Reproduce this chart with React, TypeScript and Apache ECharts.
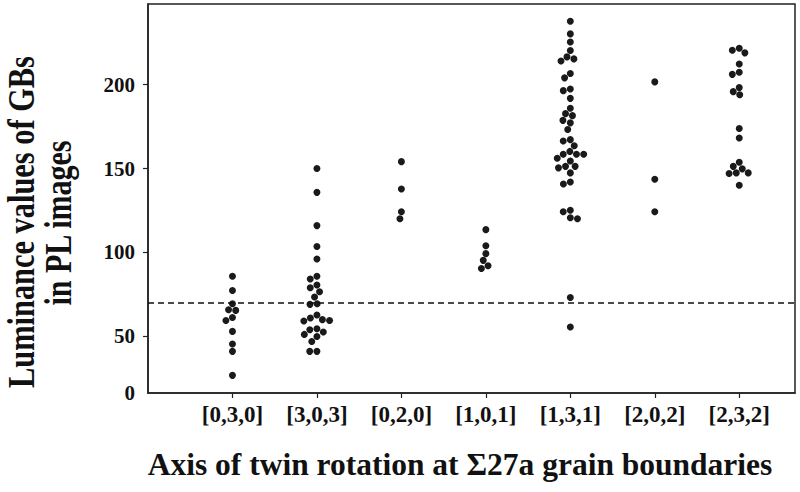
import React, { useEffect, useRef } from "react";
import * as echarts from "echarts";

const categories = ["[0,3,0]", "[3,0,3]", "[0,2,0]", "[1,0,1]", "[1,3,1]", "[2,0,2]", "[2,3,2]"];

const lum030 = [85.8, 77.4, 69.5, 65.9, 65.5, 61.3, 59.5, 53, 45.5, 41.1, 26.8];
const lum303 = [150, 135.8, 116, 103.6, 96.1, 85.8, 84.2, 80.6, 79, 76.6, 73.5, 69.5, 69.1, 62.8, 61, 59.5, 59.2, 60, 54.6, 54, 52.6, 51.2, 50, 47, 41.1, 41.1];
const lum020 = [154.1, 137.8, 124.3, 120.1];
const lum101 = [113.6, 104, 99.3, 95.3, 92.1, 90.5];
const lum131 = [237.7, 230.2, 225.4, 220.3, 216.5, 214.1, 215.3, 206.6, 204, 197.4, 196.4, 191.8, 185.9, 182.7, 181.5, 178.7, 177.2, 173.2, 167.2, 166.4, 163.6, 160.2, 158.5, 158.5, 158.5, 156.1, 154.5, 150.4, 151.3, 151.3, 147.4, 142, 140.8, 124.3, 125.1, 120.7, 120.1, 73.2, 55.6];
const lum202 = [201.6, 143.6, 124.3];
const lum232 = [220.4, 218.9, 221.6, 212.3, 207.3, 206.1, 198.2, 195.8, 193.9, 173.8, 168.2, 153.7, 151.3, 149.8, 147.4, 147, 147.4, 140];

const groups = [lum030, lum303, lum020, lum101, lum131, lum202, lum232];

const yTickValues = [50, 100, 150, 200];
const yAxisMin = 16.3;
const yAxisMax = 248;
const yBottomLabel = "0";
const thresholdValue = 70;

const xTitle = "Axis of twin rotation at Σ27a grain boundaries";
const yTitleLines = ["Luminance values of GBs", "in PL images"];

const DOT = 7.2;

function swarm(ys: number[], D: number): number[] {
  const order = ys.map((_, i) => i).sort((a, b) => ys[a] - ys[b]);
  const placed: { x: number; y: number }[] = [];
  const xs = new Array(ys.length).fill(0);
  for (const i of order) {
    const y = ys[i];
    const near = placed.filter((p) => Math.abs(p.y - y) < D);
    const cands = [0];
    near.forEach((p) => {
      const dx = Math.sqrt(D * D - (p.y - y) * (p.y - y)) + 0.01;
      cands.push(p.x + dx, p.x - dx);
    });
    const ok = cands.filter((c) => near.every((p) => (p.x - c) ** 2 + (p.y - y) ** 2 >= D * D - 0.001));
    ok.sort((a, b) => Math.abs(a) - Math.abs(b) || a - b);
    xs[i] = ok[0];
    placed.push({ x: ok[0], y });
  }
  return xs;
}

export default function App() {
  const ref = useRef<HTMLDivElement>(null);
  useEffect(() => {
    if (!ref.current) return;
    const chart = echarts.init(ref.current, null, { renderer: "svg" });
    const serif = "'Liberation Serif', 'Times New Roman', serif";
    const centerData = groups.flatMap((g, ci) => g.map((v) => [ci + 1, v]));
    const option: any = {
      animation: false,
      backgroundColor: "#ffffff",
      grid: {
        left: 148,
        right: 5,
        top: 4,
        bottom: 99,
        show: true,
        borderColor: "#222",
        borderWidth: 1.5,
        backgroundColor: "#fff",
      },
      xAxis: {
        type: "value",
        min: 0,
        max: 7.66,
        splitLine: { show: false },
        axisLine: { show: true, lineStyle: { color: "#222", width: 1.5 } },
        axisTick: { show: true, customValues: categories.map((_, i) => i + 1), length: 5, lineStyle: { color: "#222", width: 1.2 } },
        axisLabel: {
          customValues: categories.map((_, i) => i + 1),
          formatter: (v: number) => categories[Math.round(v) - 1] ?? "",
          fontFamily: serif,
          fontWeight: "bold",
          fontSize: 23,
          color: "#111",
          margin: 10,
        },
      },
      yAxis: {
        type: "value",
        min: yAxisMin,
        max: yAxisMax,
        splitLine: { show: false },
        axisLine: { show: true, lineStyle: { color: "#222", width: 1.5 } },
        axisTick: { show: true, customValues: yTickValues, length: 5, lineStyle: { color: "#222", width: 1.2 } },
        axisLabel: {
          customValues: [yAxisMin, ...yTickValues],
          formatter: (v: number) => (v === yAxisMin ? yBottomLabel : String(v)),
          fontFamily: serif,
          fontWeight: "bold",
          fontSize: 21,
          color: "#111",
          margin: 13,
        },
      },
      graphic: [
        {
          type: "text",
          x: 460,
          y: 464,
          style: {
            text: xTitle,
            font: `bold 31.5px ${serif}`,
            fill: "#111",
            align: "center",
            verticalAlign: "middle",
          },
        },
        {
          type: "text",
          x: 21,
          y: 222,
          rotation: Math.PI / 2,
          scaleX: 0.8,
          style: {
            text: yTitleLines[0],
            font: `bold 38px ${serif}`,
            fill: "#111",
            align: "center",
            verticalAlign: "middle",
          },
        },
        {
          type: "text",
          x: 57.5,
          y: 223,
          rotation: Math.PI / 2,
          scaleX: 0.79,
          style: {
            text: yTitleLines[1],
            font: `bold 38px ${serif}`,
            fill: "#111",
            align: "center",
            verticalAlign: "middle",
          },
        },
      ],
      series: [
        {
          id: "pts",
          type: "scatter",
          symbol: "circle",
          symbolSize: 7,
          itemStyle: { color: "#1a1a1a", opacity: 1 },
          data: centerData,
          markLine: {
            silent: true,
            symbol: "none",
            label: { show: false },
            lineStyle: { type: [6, 4], color: "#111", width: 1.5 },
            data: [{ yAxis: thresholdValue }],
          },
        },
      ],
    };
    chart.setOption(option);

    const data: number[][] = [];
    groups.forEach((g, ci) => {
      const pix = g.map((v) => chart.convertToPixel({ gridIndex: 0 }, [ci + 1, v]) as number[]);
      const ys = pix.map((p) => p[1]);
      const dxs = swarm(ys, DOT);
      g.forEach((v, k) => {
        const xv = (chart.convertFromPixel({ gridIndex: 0 }, [pix[k][0] + dxs[k], pix[k][1]]) as number[])[0];
        data.push([xv, v]);
      });
    });
    chart.setOption({ series: [{ id: "pts", data }] });

    return () => chart.dispose();
  }, []);
  return <div ref={ref} style={{ position: "fixed", left: 0, top: 0, width: 800, height: 492 }} />;
}
